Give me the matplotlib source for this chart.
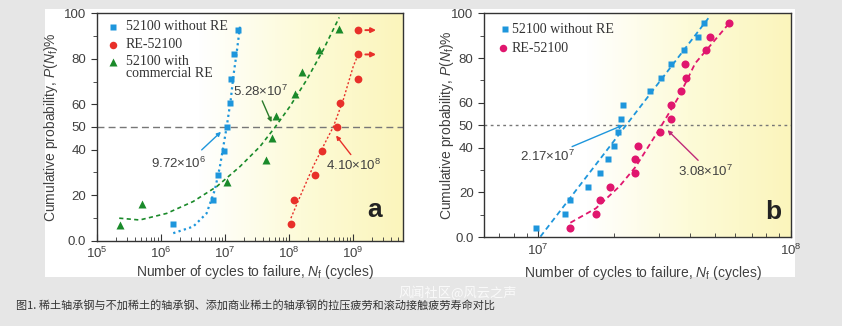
import numpy as np
import matplotlib
matplotlib.use('Agg')
import matplotlib.pyplot as plt
from matplotlib.colors import LinearSegmentedColormap
from matplotlib.ticker import LogLocator, NullFormatter

plt.rcParams['font.family'] = ['Liberation Sans', 'Noto Sans CJK SC', 'DejaVu Sans']
plt.rcParams['mathtext.fontset'] = 'custom'
plt.rcParams['mathtext.rm'] = 'Liberation Sans'
plt.rcParams['mathtext.it'] = 'Liberation Sans:italic'

# ---- panel a: tension-compression fatigue ----
a_plain_n = [1.57e6, 6.47e6, 7.92e6, 9.6e6, 1.08e7, 1.22e7, 1.25e7, 1.41e7, 1.61e7]
a_plain_p = [7.4, 18.1, 28.7, 39.4, 50.0, 60.6, 71.3, 81.9, 92.6]
a_re_n = [1.08e8, 1.2e8, 2.56e8, 3.3e8, 5.6e8, 6.2e8, 1.19e9, 1.22e9, 1.22e9]
a_re_p = [7.4, 18.1, 28.7, 39.4, 50.0, 60.6, 71.3, 81.9, 92.6]
a_com_n = [2.31e5, 5.05e5, 1.09e7, 4.35e7, 5.4e7, 6.37e7, 1.25e8, 1.63e8, 2.93e8, 6.14e8]
a_com_p = [6.7, 16.3, 26.0, 35.6, 45.2, 54.8, 64.4, 74.0, 83.7, 93.3]
# fitted curves
a_plain_fit_n = [1.57e6, 3.22e6, 5.2e6, 7.0e6, 8.4e6, 1.07e7, 1.24e7, 1.36e7, 1.53e7, 1.73e7]
a_plain_fit_p = [3.3, 6.2, 12.0, 22.3, 32.5, 49.9, 61.9, 72.1, 82.4, 94.1]
a_com_fit_n = [2.25e5, 4.7e5, 1.24e6, 3.2e6, 7.5e6, 1.73e7, 3.55e7, 6.1e7, 1.04e8, 1.9e8, 3.45e8, 6.14e8]
a_com_fit_p = [9.9, 9.1, 12.0, 17.2, 23.8, 32.6, 41.4, 49.9, 59.0, 70.7, 83.9, 98.2]
a_re_fit_n = [1.08e8, 1.5e8, 2.41e8, 3.9e8, 4.95e8, 7.1e8, 1.02e9, 1.22e9]
a_re_fit_p = [9.9, 19.4, 32.7, 44.4, 50.0, 62.0, 76.8, 82.0]
a_runout_p = [81.9, 92.6]

# ---- panel b: rolling contact fatigue ----
b_plain_n = [9.8e6, 1.28e7, 1.34e7, 1.58e7, 1.76e7, 1.88e7, 2.0e7, 2.07e7,
             2.12e7, 2.17e7, 2.77e7, 3.06e7, 3.36e7, 3.77e7, 4.3e7, 4.53e7]
b_re_n = [1.34e7, 1.70e7, 1.76e7, 1.93e7, 2.41e7, 2.41e7, 2.48e7, 3.02e7,
          3.35e7, 3.36e7, 3.66e7, 3.83e7, 3.82e7, 4.6e7, 4.77e7, 5.71e7]
b_p = [4.3, 10.4, 16.5, 22.6, 28.7, 34.8, 40.9, 47.0,
       53.0, 59.1, 65.2, 71.3, 77.4, 83.5, 89.6, 95.7]
b_plain_fit_n = [1.02e7, 4.71e7]
b_plain_fit_p = [0.3, 97.8]
b_re_fit_n = [1.34e7, 1.69e7, 2.09e7, 2.43e7, 3.0e7, 3.6e7, 4.18e7, 5.71e7]
b_re_fit_p = [6.5, 12.9, 22.6, 31.5, 47.9, 62.8, 77.7, 95.7]

yticks = [0, 20, 40, 50, 60, 80, 100]
ytick_labels = ['0.0', '20', '40', '50', '60', '80', '100']

BLUE = '#1e96dc'
RED = '#e8302a'
GREEN = '#1a8a2a'
MAGENTA = '#e0166e'
TXT = '#404040'

fig = plt.figure(figsize=(8.42, 3.26), dpi=100, facecolor='#e6e6e6')
# white card behind both panels
fig.patches.append(plt.Rectangle((0.0534, 0.1503), 0.8907, 0.822, transform=fig.transFigure,
                                 facecolor='white', edgecolor='none', zorder=-5))

grad_cmap = LinearSegmentedColormap.from_list('wy', ['#ffffff', '#ffffff', '#fdfbd8', '#fbf5bc'])
grad = np.linspace(0, 1, 256).reshape(1, -1)


def style_axes(ax, xlim, xmajor, xlabels):
    ax.imshow(grad, extent=[0, 1, 0, 1], transform=ax.transAxes, cmap=grad_cmap,
              aspect='auto', zorder=0)
    ax.set_xscale('log')
    ax.set_xlim(xlim)
    ax.set_ylim(0, 100)
    ax.set_xticks(xmajor, labels=xlabels)
    ax.xaxis.set_minor_locator(LogLocator(base=10, subs=np.arange(2, 10), numticks=50))
    ax.xaxis.set_minor_formatter(NullFormatter())
    ax.set_yticks(yticks, labels=ytick_labels)
    ax.set_yticks([10, 30, 70, 90], minor=True)
    ax.tick_params(axis='x', which='both', direction='in', colors='#333333', labelcolor=TXT,
                   labelsize=9.5, pad=4)
    ax.tick_params(axis='x', which='major', length=5)
    ax.tick_params(axis='x', which='minor', length=3)
    ax.tick_params(axis='y', which='both', direction='out', colors='#333333', labelcolor=TXT,
                   labelsize=9.5)
    ax.tick_params(axis='y', which='major', length=4)
    ax.tick_params(axis='y', which='minor', length=3)
    for s in ax.spines.values():
        s.set_color('#333333')
        s.set_linewidth(1.0)
    ax.set_xlabel('Number of cycles to failure, $N_{\\rm f}$ (cycles)', fontsize=10, color=TXT)
    ax.set_ylabel('Cumulative probability, $P(N_{\\rm f})$%', fontsize=10, color=TXT)


# ---------------- panel a ----------------
ax1 = fig.add_axes([0.1148, 0.2617, 0.3634, 0.6975])
style_axes(ax1, (1e5, 6e9), [1e5, 1e6, 1e7, 1e8, 1e9],
           ['$10^{5}$', '$10^{6}$', '$10^{7}$', '$10^{8}$', '$10^{9}$'])
ax1.xaxis.set_label_coords(0.517, -0.098)
ax1.yaxis.set_label_coords(-0.12, 0.5)

ax1.axhline(50, color='#777777', lw=1.0, ls=(0, (5, 3)), zorder=1)
ax1.plot(a_plain_fit_n, a_plain_fit_p, color=BLUE, lw=1.6, ls=(0, (1, 1.5)), zorder=2)
ax1.plot(a_com_fit_n, a_com_fit_p, color=GREEN, lw=1.2, ls=(0, (2.5, 2)), zorder=2)
ax1.plot(a_re_fit_n, a_re_fit_p, color=RED, lw=1.0, ls=(0, (1.5, 1.5)), zorder=2)
ax1.plot(a_plain_n, a_plain_p, 's', color=BLUE, ms=4.8, mec='none', zorder=3)
ax1.plot(a_re_n, a_re_p, 'o', color=RED, ms=5.6, mec='none', zorder=3)
ax1.plot(a_com_n, a_com_p, '^', color=GREEN, ms=5.6, mec='none', zorder=3)
for p in a_runout_p:
    ax1.annotate('', xy=(2.55e9, p), xytext=(1.42e9, p),
                 arrowprops=dict(arrowstyle='-|>', color=RED, lw=1.4, mutation_scale=7))

ax1.text(3.6e7, 65.5, '5.28×10$^{7}$', fontsize=9.5, color=TXT, ha='center', va='center')
ax1.annotate('', xy=(5.6e7, 51), xytext=(3.7e7, 62.6),
             arrowprops=dict(arrowstyle='-|>', color='#2a7a2a', lw=1.0, mutation_scale=6))
ax1.text(1.88e6, 34.2, '9.72×10$^{6}$', fontsize=9.5, color=TXT, ha='center', va='center')
ax1.annotate('', xy=(9.4e6, 48.7), xytext=(4.06e6, 39.1),
             arrowprops=dict(arrowstyle='-|>', color=BLUE, lw=1.0, mutation_scale=6))
ax1.text(1.02e9, 33.3, '4.10×10$^{8}$', fontsize=9.5, color=TXT, ha='center', va='center')
ax1.annotate('', xy=(5.15e8, 47.2), xytext=(9.9e8, 36.9),
             arrowprops=dict(arrowstyle='-|>', color=RED, lw=1.0, mutation_scale=6))
ax1.text(0.909, 0.135, 'a', transform=ax1.transAxes, fontsize=19, fontweight='bold',
         color='#222222', ha='center', va='center')

# legend drawn by hand
ax1.plot([0.053], [0.941], 's', color=BLUE, ms=4.6, mec='none', transform=ax1.transAxes, clip_on=False)
ax1.plot([0.053], [0.861], 'o', color=RED, ms=5.4, mec='none', transform=ax1.transAxes, clip_on=False)
ax1.plot([0.053], [0.785], '^', color=GREEN, ms=5.4, mec='none', transform=ax1.transAxes, clip_on=False)
leg_font = dict(family='Liberation Serif', fontsize=10, color='#333333', transform=ax1.transAxes,
                ha='left')
ax1.text(0.095, 0.941, '52100 without RE', va='center', **leg_font)
ax1.text(0.095, 0.861, 'RE-52100', va='center', **leg_font)
ax1.text(0.095, 0.815, '52100 with\ncommercial RE', va='top', linespacing=0.9, **leg_font)

# ---------------- panel b ----------------
ax2 = fig.add_axes([0.5748, 0.2721, 0.3646, 0.6871])
style_axes(ax2, (6.1e6, 1e8), [1e7, 1e8], ['$10^{7}$', '$10^{8}$'])
ax2.xaxis.set_label_coords(0.518, -0.117)
ax2.yaxis.set_label_coords(-0.092, 0.5)

ax2.axhline(50, color='#777777', lw=1.0, ls=(0, (2, 2.5)), zorder=1)
ax2.plot(b_plain_fit_n, b_plain_fit_p, color=BLUE, lw=1.3, ls=(0, (3, 2)), zorder=2)
ax2.plot(b_re_fit_n, b_re_fit_p, color=MAGENTA, lw=1.3, ls=(0, (3, 2)), zorder=2)
ax2.plot(b_plain_n, b_p, 's', color=BLUE, ms=4.6, mec='none', zorder=3)
ax2.plot(b_re_n, b_p, 'o', color=MAGENTA, ms=5.8, mec='none', zorder=3)

ax2.text(1.09e7, 36.0, '2.17×10$^{7}$', fontsize=9.5, color=TXT, ha='center', va='center')
ax2.annotate('', xy=(2.22e7, 50.6), xytext=(1.33e7, 40.0),
             arrowprops=dict(arrowstyle='-|>', color=BLUE, lw=1.0, mutation_scale=6))
ax2.text(4.61e7, 29.3, '3.08×10$^{7}$', fontsize=9.5, color=TXT, ha='center', va='center')
ax2.annotate('', xy=(3.19e7, 48.7), xytext=(4.37e7, 33.5),
             arrowprops=dict(arrowstyle='-|>', color='#c02a78', lw=1.0, mutation_scale=6))
ax2.text(0.941, 0.114, 'b', transform=ax2.transAxes, fontsize=19, fontweight='bold',
         color='#222222', ha='center', va='center')

ax2.plot([0.068], [0.929], 's', color=BLUE, ms=4.4, mec='none', transform=ax2.transAxes, clip_on=False)
ax2.plot([0.063], [0.844], 'o', color=MAGENTA, ms=5.4, mec='none', transform=ax2.transAxes, clip_on=False)
leg_font['transform'] = ax2.transAxes
ax2.text(0.09, 0.929, '52100 without RE', va='center', **leg_font)
ax2.text(0.09, 0.844, 'RE-52100', va='center', **leg_font)

# caption and watermark
fig.text(16 / 842, 1 - 305 / 326, '图1. 稀土轴承钢与不加稀土的轴承钢、添加商业稀土的轴承钢的拉压疲劳和滚动接触疲劳寿命对比',
         fontsize=8, color='#333333', ha='left', va='center', family=['Noto Sans CJK SC'])
fig.text(398 / 842, 1 - 293 / 326, '风闻社区@风云之声', fontsize=9.5, color='white', alpha=0.8,
         ha='left', va='center', family=['Noto Sans CJK SC'])

fig.savefig('out.png', dpi=100, facecolor=fig.get_facecolor())
